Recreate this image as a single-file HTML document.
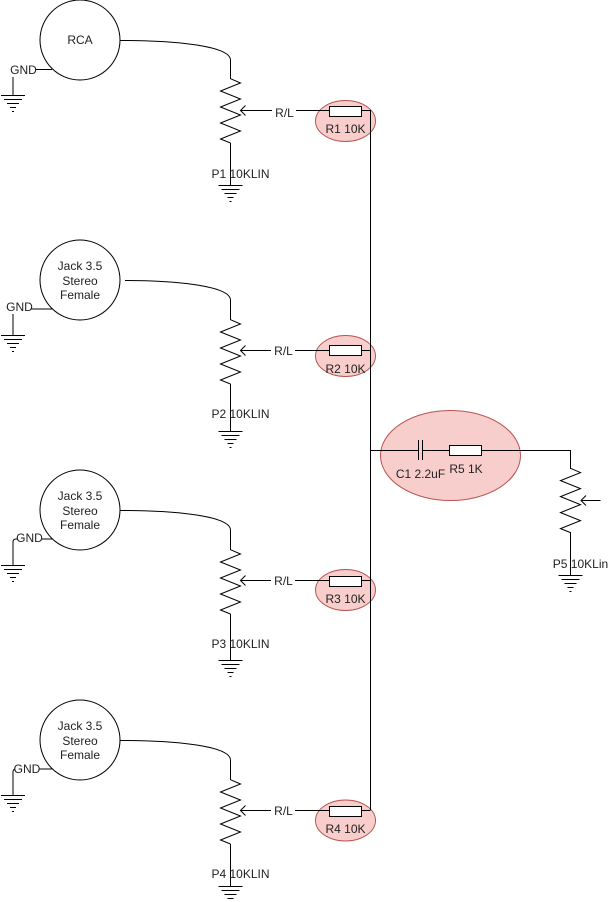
<!DOCTYPE html>
<html>
<head>
<meta charset="utf-8">
<style>
html,body{margin:0;padding:0;background:#fff;}
svg{display:block;}
text{font-family:"Liberation Sans",sans-serif;font-size:12px;fill:#222;text-anchor:middle;}
.w{fill:none;stroke:#000;stroke-width:1;}
.e{fill:#f8cecc;stroke:#b85450;stroke-width:1;}
.c{fill:#fff;stroke:#000;stroke-width:1;}
</style>
</head>
<body>
<svg width="608" height="902" viewBox="0 0 608 902" xmlns="http://www.w3.org/2000/svg">
<defs>
<g id="pot" class="w">
<path class="w" d="M230.500 78.700L240.500 83L220.500 91L240.500 99L220.500 107L240.500 115L220.500 123L240.500 131L220.500 139L230.500 143"/>
</g>
<g id="gnd">
<path class="w" d="M0 0.500H24M3 4.500H21M6 8.500H18M9 12.500H15M11 16.500H13"/>
</g>
<g id="res">
<rect class="c" x="329.500" y="-4.500" width="32" height="10"/>
</g>
</defs>

<!-- ellipses -->
<ellipse class="e" cx="345.500" cy="121" rx="30" ry="20.500"/>
<ellipse class="e" cx="345.500" cy="356" rx="30" ry="20.500"/>
<ellipse class="e" cx="345.500" cy="590" rx="30" ry="20.500"/>
<ellipse class="e" cx="345.500" cy="820.500" rx="30" ry="20.500"/>
<ellipse class="e" cx="450.500" cy="455.500" rx="70" ry="45"/>

<!-- bus -->
<path class="w" d="M370.500 110V810M370.500 450.500H418M422 450.500H449M481 450.500H570.500V469"/>
<path class="w" d="M418.500 440V460M422.500 440V460"/>
<rect class="c" x="449.500" y="445.500" width="32" height="10"/>

<!-- block 1 -->
<circle class="c" cx="80" cy="40" r="40"/>
<path class="w" d="M120 40.500C170 40.500 230 45 230.500 60V79"/>
<use href="#pot"/>
<path class="w" d="M230.500 143V185"/>
<use href="#gnd" x="218.500" y="185"/>
<path class="w" d="M240.500 110.500H329.500M361.500 110.500H370.500"/>
<path class="w" d="M245.500 105.500L240.500 110.500L245.500 115.500"/>
<use href="#res" y="111"/>
<path class="w" d="M35 69.500H52M13 77V95"/>
<use href="#gnd" x="1" y="95"/>
<text x="80" y="44">RCA</text>
<text x="23.500" y="74">GND</text>
<rect x="272" y="106" width="24" height="13" fill="#fff"/>
<text x="284.500" y="117">R/L</text>
<text x="345.500" y="133">R1 10K</text>
<text x="240.500" y="178">P1 10KLIN</text>

<!-- block 2 -->
<circle class="c" cx="80" cy="280" r="40"/>
<path class="w" d="M125 280.500C170 280.500 230 285 230.500 300V320"/>
<use href="#pot" y="241"/>
<path class="w" d="M230.500 384V431"/>
<use href="#gnd" x="218.500" y="431"/>
<path class="w" d="M240.500 350.500H329.500M361.500 350.500H370.500"/>
<path class="w" d="M245.500 345.500L240.500 350.500L245.500 355.500"/>
<use href="#res" y="350"/>
<path class="w" d="M31 309H52M13 314V335"/>
<use href="#gnd" x="1" y="335"/>
<text x="80" y="270">Jack 3.5</text>
<text x="80" y="285">Stereo</text>
<text x="80" y="299">Female</text>
<text x="19.500" y="311">GND</text>
<rect x="271" y="344" width="24" height="13" fill="#fff"/>
<text x="283.500" y="355">R/L</text>
<text x="345.500" y="373">R2 10K</text>
<text x="240.500" y="418">P2 10KLIN</text>

<!-- block 3 -->
<circle class="c" cx="80" cy="510" r="40"/>
<path class="w" d="M120 510.500C170 510.500 230 515 230.500 530V550"/>
<use href="#pot" y="471"/>
<path class="w" d="M230.500 614V660"/>
<use href="#gnd" x="218.500" y="660"/>
<path class="w" d="M240.500 580.500H329.500M361.500 580.500H370.500"/>
<path class="w" d="M245.500 575.500L240.500 580.500L245.500 585.500"/>
<use href="#res" y="581"/>
<path class="w" d="M52 539H16Q13 539 13 542V565"/>
<use href="#gnd" x="1" y="565"/>
<text x="80" y="500">Jack 3.5</text>
<text x="80" y="515">Stereo</text>
<text x="80" y="529">Female</text>
<rect x="17" y="533" width="25" height="12" fill="#fff"/>
<text x="29.500" y="542">GND</text>
<rect x="271" y="574" width="24" height="13" fill="#fff"/>
<text x="283.500" y="585">R/L</text>
<text x="345.500" y="603">R3 10K</text>
<text x="240.500" y="648">P3 10KLIN</text>

<!-- block 4 -->
<circle class="c" cx="80" cy="740" r="40"/>
<path class="w" d="M120 740.500C170 740.500 230 745 230.500 760V780"/>
<use href="#pot" y="701"/>
<path class="w" d="M230.500 844V887"/>
<use href="#gnd" x="218.500" y="886"/>
<path class="w" d="M240.500 810.500H329.500M361.500 810.500H370.500"/>
<path class="w" d="M245.500 805.500L240.500 810.500L245.500 815.500"/>
<use href="#res" y="811"/>
<path class="w" d="M52 769H16Q13 769 13 772V795"/>
<use href="#gnd" x="1" y="795"/>
<text x="80" y="730">Jack 3.5</text>
<text x="80" y="745">Stereo</text>
<text x="80" y="759">Female</text>
<rect x="15" y="763" width="24" height="12" fill="#fff"/>
<text x="27" y="773">GND</text>
<rect x="271" y="804" width="24" height="13" fill="#fff"/>
<text x="283.500" y="815">R/L</text>
<text x="345.500" y="833">R4 10K</text>
<text x="240.500" y="878">P4 10KLIN</text>

<!-- output -->
<use href="#pot" x="340" y="389.600"/>
<path class="w" d="M570.500 532V575"/>
<use href="#gnd" x="558.500" y="575"/>
<path class="w" d="M600.500 500.500H581"/>
<path class="w" d="M586 495.500L581 500.500L586 505.500"/>
<text x="420.500" y="478">C1 2.2uF</text>
<text x="466" y="473">R5 1K</text>
<text x="580.500" y="568">P5 10KLin</text>
</svg>
</body>
</html>
